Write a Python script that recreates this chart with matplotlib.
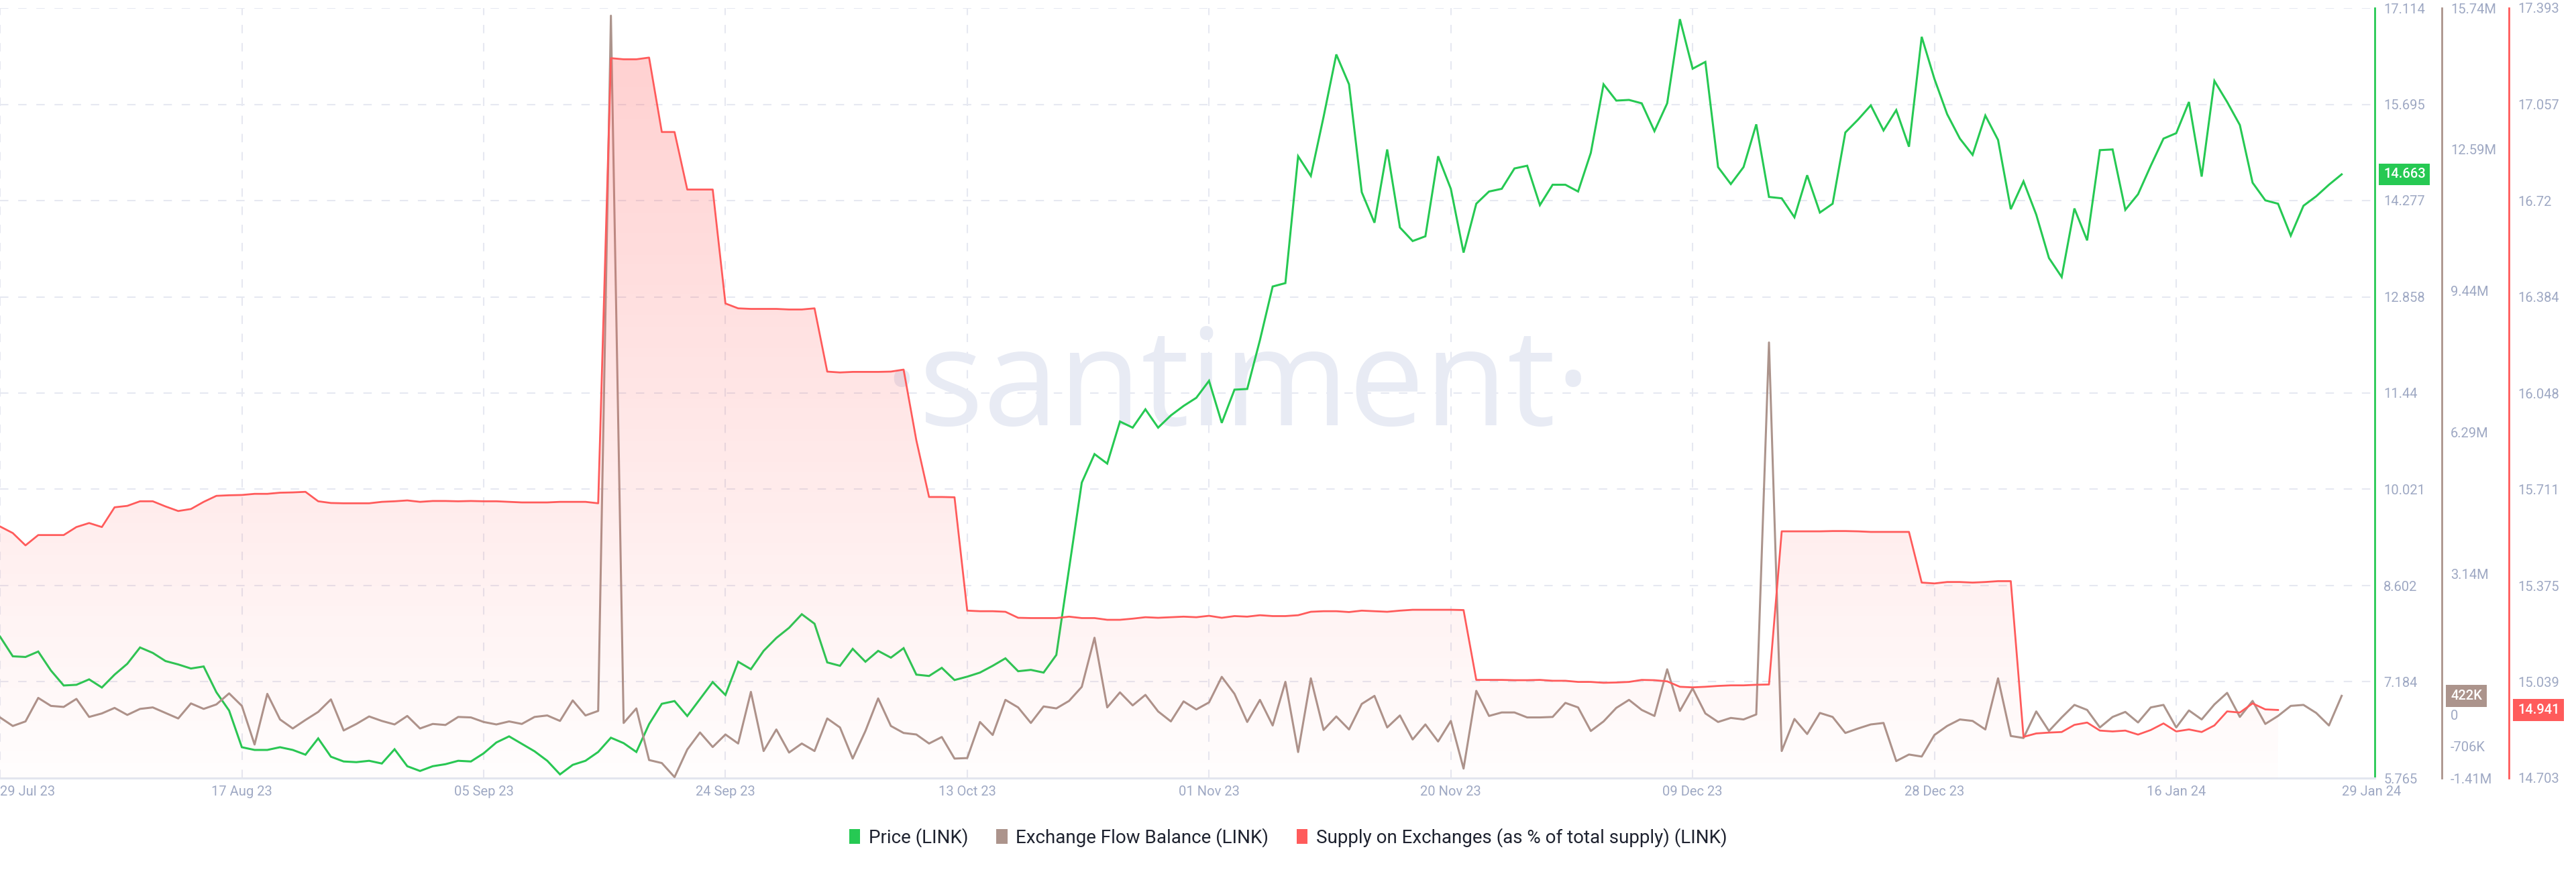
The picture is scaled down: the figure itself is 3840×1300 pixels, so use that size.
import numpy as np
import pandas as pd
import matplotlib
matplotlib.use('Agg')
import matplotlib.pyplot as plt
import matplotlib.dates as mdates
import matplotlib.transforms as mtransforms
from matplotlib.patches import Patch
from matplotlib.colors import to_rgb

plt.rcParams['font.family'] = ['Roboto', 'DejaVu Sans']

#### DATA ####
dates = pd.date_range('2023-07-29', '2024-01-29', freq='D')

# Price (LINK), USD
price = [
    7.85, 7.56, 7.55, 7.63, 7.35, 7.13, 7.14, 7.22, 7.10, 7.29,
    7.45, 7.69, 7.61, 7.49, 7.44, 7.38, 7.41, 7.03, 6.76, 6.22,
    6.18, 6.18, 6.22, 6.18, 6.11, 6.35, 6.08, 6.01, 6.00, 6.02,
    5.98, 6.19, 5.94, 5.87, 5.94, 5.97, 6.02, 6.01, 6.13, 6.29,
    6.38, 6.27, 6.16, 6.02, 5.82, 5.96, 6.02, 6.15, 6.36, 6.28,
    6.15, 6.56, 6.86, 6.90, 6.68, 6.93, 7.18, 6.99, 7.48, 7.37,
    7.64, 7.83, 7.98, 8.18, 8.04, 7.47, 7.42, 7.67, 7.48, 7.64,
    7.54, 7.68, 7.29, 7.27, 7.39, 7.21, 7.26, 7.32, 7.42, 7.53,
    7.34, 7.36, 7.32, 7.58, 8.85, 10.12, 10.54, 10.40, 11.02, 10.93,
    11.20, 10.93, 11.11, 11.25, 11.37, 11.62, 11.00, 11.49, 11.50, 12.22,
    13.01, 13.06, 14.93, 14.64, 15.51, 16.43, 15.99, 14.40, 13.95, 15.03,
    13.88, 13.68, 13.75, 14.93, 14.45, 13.51, 14.23, 14.41, 14.45, 14.75,
    14.79, 14.21, 14.51, 14.51, 14.41, 14.98, 15.99, 15.75, 15.76, 15.71,
    15.30, 15.71, 16.95, 16.22, 16.32, 14.77, 14.52, 14.77, 15.40, 14.33,
    14.31, 14.03, 14.65, 14.10, 14.23, 15.28, 15.47, 15.68, 15.31, 15.61,
    15.07, 16.69, 16.07, 15.55, 15.19, 14.95, 15.53, 15.17, 14.15, 14.56,
    14.07, 13.43, 13.15, 14.16, 13.69, 15.02, 15.03, 14.14, 14.37, 14.79,
    15.19, 15.27, 15.73, 14.63, 16.04, 15.73, 15.39, 14.54, 14.28, 14.23,
    13.76, 14.20, 14.34, 14.51, 14.663]

# Exchange Flow Balance (LINK), millions
flow = [
    -0.059, -0.249, -0.148, 0.376, 0.198, 0.175, 0.354, -0.048, 0.030, 0.153,
    -0.003, 0.131, 0.164, 0.041, -0.082, 0.253, 0.131, 0.231, 0.477, 0.198,
    -0.662, 0.466, -0.104, -0.305, -0.115, 0.064, 0.343, -0.349, -0.204, -0.037,
    -0.137, -0.215, -0.026, -0.305, -0.204, -0.227, -0.048, -0.059, -0.160, -0.215,
    -0.148, -0.204, -0.048, -0.015, -0.137, 0.320, -0.015, 0.086, 15.57, -0.182,
    0.142, -1.008, -1.075, -1.388, -0.774, -0.394, -0.718, -0.439, -0.640, 0.510,
    -0.807, -0.327, -0.841, -0.640, -0.807, -0.082, -0.282, -0.975, -0.361, 0.365,
    -0.249, -0.405, -0.439, -0.640, -0.495, -0.975, -0.964, -0.160, -0.450, 0.332,
    0.164, -0.182, 0.186, 0.142, 0.309, 0.622, 1.716, 0.164, 0.499, 0.209,
    0.443, 0.075, -0.148, 0.298, 0.119, 0.276, 0.845, 0.466, -0.160, 0.332,
    -0.238, 0.734, -0.830, 0.812, -0.338, -0.037, -0.327, 0.242, 0.421, -0.282,
    -0.015, -0.550, -0.215, -0.595, -0.137, -1.198, 0.533, -0.026, 0.052, 0.052,
    -0.059, -0.059, -0.048, 0.265, 0.164, -0.361, -0.148, 0.153, 0.332, 0.108,
    -0.026, 1.013, 0.086, 0.588, 0.030, -0.160, -0.070, -0.104, 0.008, 8.292,
    -0.807, -0.093, -0.428, 0.041, -0.048, -0.405, -0.305, -0.215, -0.182, -1.031,
    -0.885, -0.930, -0.450, -0.249, -0.104, -0.137, -0.327, 0.812, -0.472, -0.517,
    0.075, -0.361, -0.059, 0.220, 0.108, -0.282, -0.048, 0.064, -0.171, 0.164,
    0.220, -0.282, 0.097, -0.104, 0.231, 0.488, -0.048, 0.309, -0.204, -0.026,
    0.198, 0.220, 0.041, -0.238, 0.422]

# Supply on Exchanges (as % of total supply), last value on 24 Jan 24
supply = [
    15.582, 15.559, 15.516, 15.552, 15.552, 15.552, 15.580, 15.594, 15.580, 15.649,
    15.654, 15.670, 15.670, 15.652, 15.636, 15.643, 15.668, 15.689, 15.691, 15.692,
    15.696, 15.696, 15.700, 15.701, 15.703, 15.670, 15.664, 15.663, 15.663, 15.663,
    15.668, 15.670, 15.673, 15.668, 15.671, 15.671, 15.670, 15.671, 15.670, 15.670,
    15.668, 15.666, 15.666, 15.666, 15.668, 15.668, 15.668, 15.663, 17.218, 17.214,
    17.214, 17.220, 16.960, 16.960, 16.759, 16.759, 16.759, 16.361, 16.344, 16.342,
    16.342, 16.342, 16.340, 16.340, 16.344, 16.123, 16.120, 16.122, 16.122, 16.122,
    16.123, 16.130, 15.883, 15.685, 15.685, 15.684, 15.288, 15.286, 15.286, 15.284,
    15.263, 15.262, 15.262, 15.262, 15.267, 15.262, 15.262, 15.256, 15.256, 15.260,
    15.265, 15.263, 15.265, 15.267, 15.265, 15.270, 15.263, 15.269, 15.267, 15.272,
    15.269, 15.269, 15.272, 15.284, 15.286, 15.286, 15.283, 15.288, 15.286, 15.284,
    15.288, 15.291, 15.291, 15.291, 15.291, 15.290, 15.046, 15.046, 15.046, 15.045,
    15.045, 15.046, 15.043, 15.043, 15.039, 15.039, 15.036, 15.037, 15.039, 15.046,
    15.045, 15.041, 15.022, 15.020, 15.022, 15.025, 15.027, 15.027, 15.029, 15.030,
    15.565, 15.565, 15.565, 15.565, 15.566, 15.566, 15.565, 15.563, 15.563, 15.563,
    15.563, 15.386, 15.383, 15.388, 15.388, 15.386, 15.388, 15.391, 15.391, 14.847,
    14.859, 14.862, 14.864, 14.889, 14.897, 14.869, 14.866, 14.869, 14.855, 14.871,
    14.894, 14.866, 14.873, 14.864, 14.887, 14.936, 14.932, 14.964, 14.943, 14.941]

price_ticks = [5.765, 7.184, 8.602, 10.021, 11.44, 12.858, 14.277, 15.695, 17.114]
flow_ticks = [-1.41, -0.706, 0, 3.14, 6.29, 9.44, 12.59, 15.74]
flow_labels = ['-1.41M', '-706K', '0', '3.14M', '6.29M', '9.44M', '12.59M', '15.74M']
supply_ticks = [14.703, 15.039, 15.375, 15.711, 16.048, 16.384, 16.72, 17.057, 17.393]
date_ticks = pd.to_datetime(['2023-07-29', '2023-08-17', '2023-09-05', '2023-09-24',
                             '2023-10-13', '2023-11-01', '2023-11-20', '2023-12-09',
                             '2023-12-28', '2024-01-16', '2024-01-29'])
legend_labels = ['Price (LINK)', 'Exchange Flow Balance (LINK)',
                 'Supply on Exchanges (as % of total supply) (LINK)']

#### STYLE ####
GREEN, BROWN, RED = '#26c953', '#ac948c', '#ff5b5b'
TXT = '#9ea8c3'
GRID = '#e6e8f1'
W, H = 3840, 1300
AX_W = 3540

fig = plt.figure(figsize=(W / 100, H / 100), dpi=100)
ax = fig.add_axes([0, 1 - 1160 / H, AX_W / W, (1160 - 12) / H])
ax2 = ax.twinx()
ax3 = ax.twinx()

x0 = mdates.date2num(dates[0])
xlim = (x0 - 0.004, x0 + 186.6)

# grid
for t in price_ticks[1:]:
    ax.axhline(t, color=GRID, lw=1.5, ls=(0, (6, 7)), zorder=0.5)
for d in date_ticks[:-1]:
    ax.axvline(d, color=GRID, lw=1.5, ls=(0, (6, 7)), zorder=0.5)

# watermark
ax.text(1845 / W, 1 - 634 / H, '\u00b7santiment\u00b7', transform=fig.transFigure,
        fontsize=145, family='Open Sans', color='#e8ebf4', ha='center', va='baseline',
        zorder=0.6)

ax.plot(dates, price, color=GREEN, lw=2.2, zorder=3, solid_joinstyle='miter')
ax2.plot(dates, flow, color=BROWN, lw=2.2, zorder=3)

# supply with gradient fill
sd = dates[:len(supply)]
ax3.plot(sd, supply, color=RED, lw=2.0, zorder=3)
poly = ax3.fill_between(sd, supply, supply_ticks[0], color='none', lw=0)
grad = np.zeros((256, 1, 4))
grad[..., :3] = to_rgb(RED)
grad[..., 3] = np.linspace(0.30, 0.01, 256).reshape(-1, 1)
im = ax3.imshow(grad, extent=[xlim[0], xlim[1], supply_ticks[0], supply_ticks[-1]],
                aspect='auto', origin='upper', zorder=1)
im.set_clip_path(poly.get_paths()[0], transform=ax3.transData)

ax.set_xlim(*xlim)
ax.set_ylim(price_ticks[0], price_ticks[-1])
ax2.set_ylim(flow_ticks[0], flow_ticks[-1])
ax3.set_ylim(supply_ticks[0], supply_ticks[-1])
ax3.set_xlim(*xlim)

# axes styling
for a in (ax, ax2, ax3):
    a.spines['top'].set_visible(False)
    a.spines['left'].set_visible(False)
    a.patch.set_visible(False)
for a in (ax2, ax3):
    a.spines['bottom'].set_visible(False)
ax.spines['bottom'].set_color('#e3e6ef')
ax.spines['bottom'].set_linewidth(2.2)
ax.spines['right'].set_color(GREEN)
ax.spines['right'].set_linewidth(2)
ax2.spines['right'].set_position(('axes', 1 + 100 / AX_W))
ax2.spines['right'].set_color(BROWN)
ax2.spines['right'].set_linewidth(2)
ax3.spines['right'].set_position(('axes', 1 + 200 / AX_W))
ax3.spines['right'].set_color(RED)
ax3.spines['right'].set_linewidth(2)

ax.yaxis.tick_right()
ax.set_yticks(price_ticks, labels=[str(t) for t in price_ticks])
ax2.set_yticks(flow_ticks, labels=flow_labels)
ax3.set_yticks(supply_ticks, labels=[str(t) for t in supply_ticks])
for a in (ax, ax2, ax3):
    a.tick_params(axis='y', length=0, pad=9.4, labelsize=14.5, labelcolor=TXT)

ax.set_xticks(date_ticks)
ax.xaxis.set_major_formatter(mdates.DateFormatter('%d %b %y'))
ax.tick_params(axis='x', length=0, pad=8, labelsize=14.5, labelcolor=TXT)
xl = ax.get_xticklabels()
xl[0].set_ha('left')
xl[-1].set_ha('left')

# value badges
def badge(a, off_px, y, text, color):
    trans = mtransforms.blended_transform_factory(a.transAxes, a.transData)
    a.text(1 + off_px / AX_W, y, text, transform=trans, ha='left', va='center',
           fontsize=14.5, color='white', fontweight='medium', clip_on=False, zorder=10,
           bbox=dict(boxstyle='square,pad=0.33', fc=color, ec='none'))

badge(ax, 13, price[-1], '14.663', GREEN)
badge(ax2, 113, flow[-1], '422K', BROWN)
badge(ax3, 213, supply[-1], '14.941', RED)

handles = [Patch(facecolor=c, edgecolor='none') for c in (GREEN, BROWN, RED)]
fig.legend(handles, legend_labels, loc='center', bbox_to_anchor=(0.5, 1 - 1249 / H),
           ncol=3, frameon=False, fontsize=20, handlelength=0.6, handleheight=0.85,
           handletextpad=0.45, columnspacing=1.5, labelcolor='#1f2330')

fig.savefig('out.png', dpi=100)
